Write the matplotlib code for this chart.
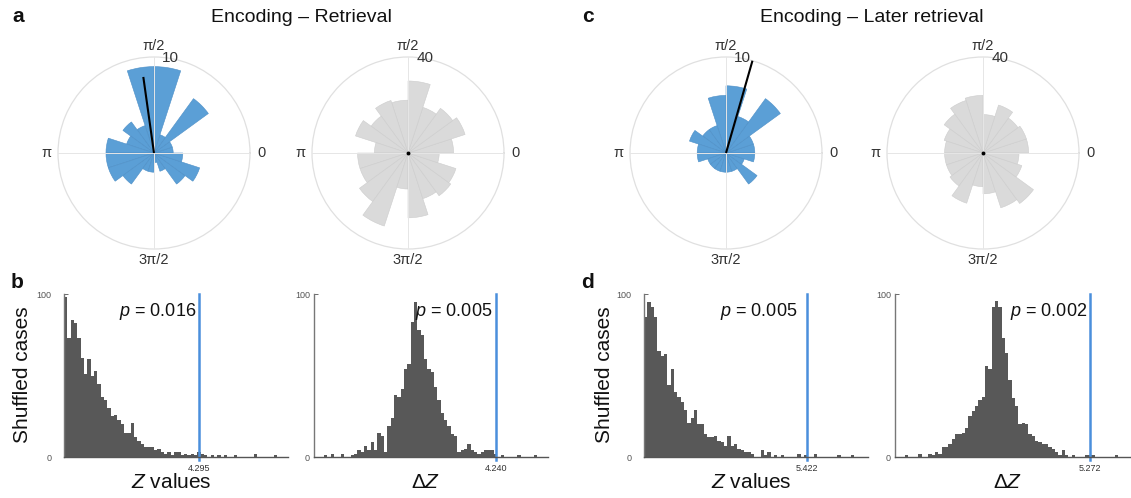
import numpy as np
import matplotlib
matplotlib.use("Agg")
import matplotlib.pyplot as plt

plt.rcParams['font.family'] = ['Liberation Sans', 'DejaVu Sans']
plt.rcParams['mathtext.fontset'] = 'custom'
plt.rcParams['mathtext.rm'] = 'Liberation Sans'
plt.rcParams['mathtext.it'] = 'Liberation Sans:italic'

# ---------------- data ----------------
# polar histograms: 20 bins of 18 degrees, starting at 0
bin_deg = 18
enc_ret_obs = [2, 2, 7, 2, 9, 9, 3, 4, 3, 5, 5, 5, 4, 2, 2, 1, 2, 4, 5, 3]
enc_ret_shuf = [19, 25, 23, 20, 30, 22, 23, 19, 23, 14, 21, 21, 25, 32, 15, 27, 20, 22, 21, 13]
enc_later_obs = [3, 3, 7, 4, 7, 6, 3, 3, 4, 3, 3, 2, 2, 2, 2, 2, 2, 4, 2, 3]
enc_later_shuf = [19, 19, 18, 21, 16, 24, 23, 20, 17, 16, 16, 16, 17, 22, 14, 17, 24, 26, 17, 15]
mean_dir_deg = [98, 74]        # mean vector angle, observed
mean_len = [8, 10]             # mean vector length (plot units)

# shuffle distributions (counts per bin)
b1_counts = [98, 73, 84, 82, 73, 61, 51, 60, 50, 53, 45, 37, 35, 30, 25, 26, 23, 20, 15, 15,
             21, 12, 10, 8, 6, 6, 6, 4, 5, 3, 2, 3, 1, 3, 3, 1, 2, 1, 2, 1,
             3, 2, 1, 0, 1, 0, 1, 0, 1, 0, 0, 1, 0, 0, 0, 0, 0, 2, 0, 0, 0, 0, 0, 1]
b2_counts = [0, 0, 0, 1, 0, 2, 0, 0, 2, 0, 0, 1, 2, 4, 3, 7, 4, 9, 4, 15,
             13, 3, 19, 24, 38, 37, 42, 54, 57, 83, 95, 78, 75, 60, 54, 52, 43, 35, 27, 23,
             19, 14, 13, 3, 4, 5, 8, 4, 3, 2, 3, 4, 4, 4, 2, 0, 1, 0, 0, 0, 0, 1, 0, 0, 0, 0, 1]
d1_counts = [86, 95, 92, 86, 65, 62, 63, 44, 54, 40, 37, 34, 29, 21, 24, 29, 20, 20, 14, 12,
             12, 13, 10, 9, 7, 13, 7, 8, 5, 4, 3, 3, 2, 0, 0, 4, 1, 3, 0, 1,
             0, 1, 0, 0, 0, 0, 2, 0, 1, 0, 0, 2, 0, 0, 0, 0, 0, 0, 1, 0, 0, 0, 1]
d2_counts = [0, 0, 0, 1, 0, 0, 0, 2, 0, 0, 2, 1, 3, 2, 6, 6, 8, 11, 14, 14,
             15, 18, 25, 28, 31, 35, 37, 56, 54, 92, 96, 92, 73, 64, 47, 36, 31, 20, 21, 20,
             14, 13, 10, 9, 8, 8, 6, 5, 3, 1, 4, 1, 0, 1, 0, 0, 0, 1, 1, 1, 0, 0, 0, 0, 0, 0, 1]
# bin start, bin width
b1_bins = (0.0, 0.106)
b2_bins = (-1.22, 0.10)
d1_bins = (0.0, 0.1109)
d2_bins = (-0.578, 0.10)
observed = [4.295, 4.240, 5.422, 5.272]
p_values = ["0.016", "0.005", "0.005", "0.002"]
xlims = [(0.0, 7.13), (-1.22, 5.80), (0.0, 7.45), (-0.578, 6.47)]

# ---------------- figure ----------------
W, H = 1131, 498
fig = plt.figure(figsize=(W / 100, H / 100), dpi=100)


def rect(left, top, w, h):
    return [left / W, (H - top - h) / H, w / W, h / H]


BLUE = '#5b9fd6'
BLUE_EDGE = '#4d8fc7'
GRAY = '#dadada'
GRAY_EDGE = '#cdcdcd'
LINE_BLUE = '#4a8fdc'
TXT = '#333333'

theta0 = np.deg2rad(np.arange(0, 360, bin_deg))
wbin = np.deg2rad(bin_deg)


def polar_panel(cx, counts, color, edge, rmax, vec=None):
    R = 96
    ax = fig.add_axes(rect(cx - R, 153 - R, 2 * R, 2 * R), projection='polar')
    ax.bar(theta0, counts, width=wbin, align='edge', color=color,
           edgecolor=edge, linewidth=0.4, zorder=1)
    ax.set_ylim(0, rmax)
    ax.set_thetagrids([0, 90, 180, 270], labels=['0', 'π/2', 'π', '3π/2'])
    ax.set_yticks([])
    ax.set_axisbelow(False)
    ax.grid(True, color='#e6e6e6', linewidth=0.7)
    ax.spines['polar'].set_color('#e0e0e0')
    ax.spines['polar'].set_linewidth(0.9)
    ax.tick_params(axis='x', pad=-2.5, labelsize=10.5, colors=TXT)
    ax.text(np.deg2rad(80), rmax, str(rmax), ha='center', va='center',
            fontsize=11, color=TXT, clip_on=False, zorder=5)
    if vec is not None:
        a, l = vec
        ax.plot([np.deg2rad(a), np.deg2rad(a)], [0, l], color='k', lw=1.5,
                zorder=4, clip_on=False, solid_capstyle='butt')
    else:
        ax.plot([0], [0], 'o', color='k', ms=1.8, zorder=4)
    return ax


polar_panel(154, enc_ret_obs, BLUE, BLUE_EDGE, 10, (mean_dir_deg[0], mean_len[0]))
polar_panel(408, enc_ret_shuf, GRAY, GRAY_EDGE, 40)
polar_panel(726, enc_later_obs, BLUE, BLUE_EDGE, 10, (mean_dir_deg[1], mean_len[1]))
polar_panel(983, enc_later_shuf, GRAY, GRAY_EDGE, 40)


def hist_panel(left, width, counts, bins, obs, pval, xlim, xlabel, ypad, poff):
    ax = fig.add_axes(rect(left, 294, width, 163))
    x0, w = bins
    starts = x0 + w * np.arange(len(counts))
    ax.bar(starts, counts, width=w, align='edge', color='#585858', linewidth=0)
    ax.set_xlim(*xlim)
    ax.set_ylim(0, 100)
    for s in ['top', 'right']:
        ax.spines[s].set_visible(False)
    ax.spines['left'].set_color('#777777')
    ax.spines['bottom'].set_color('#555555')
    ax.spines['left'].set_linewidth(1.0)
    ax.spines['bottom'].set_linewidth(1.0)
    ax.set_yticks([0, 100])
    ax.set_xticks([obs])
    ax.set_xticklabels([f"{obs:.3f}"])
    ax.tick_params(axis='y', direction='in', length=3, width=0.6, pad=ypad,
                   labelsize=6.5, colors='#555555', labelcolor='#555555')
    ax.tick_params(axis='x', direction='in', length=0, pad=5,
                   labelsize=6.5, labelcolor='#333333')
    ax.axvline(obs, ymin=-0.02, ymax=1.0, color=LINE_BLUE, lw=1.8, clip_on=False)
    ax.annotate(f"$p$ = {pval}", xy=(obs, 89.5), xytext=(poff, 0),
                textcoords='offset points', ha='right', va='center',
                fontsize=13, color='#111111')
    ax.set_xlabel(xlabel, fontsize=15, color='#111111')
    ax.xaxis.set_label_coords(0.478, -0.1)
    ax.xaxis.label.set_va('top')
    return ax


hist_panel(64, 224, b1_counts, b1_bins, observed[0], p_values[0], xlims[0], '$Z$ values', 9, -2)
hist_panel(314, 234, b2_counts, b2_bins, observed[1], p_values[1], xlims[1], 'Δ$Z$', 3, -2.5)
hist_panel(644, 224, d1_counts, d1_bins, observed[2], p_values[2], xlims[2], '$Z$ values', 9, -7)
hist_panel(895, 235, d2_counts, d2_bins, observed[3], p_values[3], xlims[3], 'Δ$Z$', 3, -2)

# y labels
for xc in (22, 605):
    fig.text(xc / W, 1 - 375 / H, 'Shuffled cases', rotation=90, ha='center',
             va='center', fontsize=15, color='#111111')

# titles
fig.text(301 / W, 1 - 18 / H, 'Encoding – Retrieval', ha='center', va='center',
         fontsize=14, color='#111111')
fig.text(872 / W, 1 - 18 / H, 'Encoding – Later retrieval', ha='center', va='center',
         fontsize=14, color='#111111')

# panel letters
for lab, x, y in [('a', 18, 16), ('b', 17, 283), ('c', 588, 16), ('d', 587, 283)]:
    fig.text(x / W, 1 - y / H, lab, ha='center', va='center', fontsize=15,
             fontweight='bold', color='#111111')

fig.savefig('out.png', dpi=100, facecolor='white')
